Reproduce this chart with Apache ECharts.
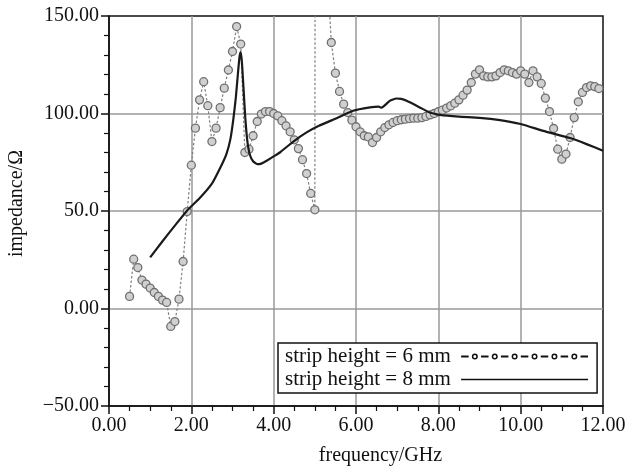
<!DOCTYPE html>
<html>
<head>
<meta charset="utf-8">
<script src="https://cdn.jsdelivr.net/npm/echarts@6/dist/echarts.min.js"></script>
<style>
html, body { margin: 0; padding: 0; background: #fff; }
#chart { width: 629px; height: 470px; }
</style>
</head>
<body>
<div id="chart"></div>
<script>
// ---- data ----
var seriesName6 = 'strip height = 6 mm';
var seriesName8 = 'strip height = 8 mm';

var freq6 = [0.5, 0.6, 0.7, 0.8, 0.9, 1.0, 1.1, 1.2, 1.3, 1.4,
  1.5, 1.6, 1.7, 1.8, 1.9, 2.0, 2.1, 2.2, 2.3, 2.4,
  2.5, 2.6, 2.7, 2.8, 2.9, 3.0, 3.1, 3.2, 3.3, 3.4,
  3.5, 3.6, 3.7, 3.8, 3.9, 4.0, 4.1, 4.2, 4.3, 4.4,
  4.5, 4.6, 4.7, 4.8, 4.9, 5.0, 5.1, 5.2, 5.3, 5.4,
  5.5, 5.6, 5.7, 5.8, 5.9, 6.0, 6.1, 6.2, 6.3, 6.4,
  6.5, 6.6, 6.7, 6.8, 6.9, 7.0, 7.1, 7.2, 7.3, 7.4,
  7.5, 7.6, 7.7, 7.8, 7.9, 8.0, 8.1, 8.2, 8.3, 8.4,
  8.5, 8.6, 8.7, 8.8, 8.9, 9.0, 9.1, 9.2, 9.3, 9.4,
  9.5, 9.6, 9.7, 9.8, 9.9, 10.0, 10.1, 10.2, 10.3, 10.4,
  10.5, 10.6, 10.7, 10.8, 10.9, 11.0, 11.1, 11.2, 11.3, 11.4,
  11.5, 11.6, 11.7, 11.8, 11.9];
var imp6 = [6.2, 25.3, 21, 14.6, 12.5, 10.5, 8.2, 6.2, 4.3, 3.1,
  -9.2, -6.7, 4.8, 24.1, 49.7, 73.5, 92.5, 107, 116.3, 104,
  85.6, 92.5, 103, 113, 122.3, 131.8, 144.6, 135.6, 80, 81.7,
  88.6, 95.9, 99.7, 101, 101, 100, 98.8, 96.3, 93.7, 90.6,
  86.5, 82, 76.3, 69.2, 59, 50.6, 2000, 1200, 175, 136.4,
  120.7, 111.3, 104.8, 100.5, 96.6, 93.2, 90.6, 88.6, 88, 85.1,
  87.7, 90.6, 92.8, 94.2, 95.4, 96.3, 96.8, 97.1, 97.4, 97.6,
  97.6, 97.9, 98.5, 99.3, 100, 100.9, 101.7, 102.8, 103.9, 105.3,
  107, 109.4, 112, 115.9, 120.2, 122.4, 119.3, 118.8, 118.8, 119.3,
  121, 122.4, 121.9, 121, 120.2, 121.9, 120.2, 115.9, 121.9, 118.8,
  115.4, 107.9, 101, 92.3, 81.7, 76.6, 79.2, 87.7, 97.9, 106,
  110.8, 113.3, 114.2, 113.8, 112.8];

var freq8 = [1.0, 1.3, 1.6, 1.9, 2.2, 2.5, 2.7, 2.85, 2.95, 3.02,
  3.08, 3.13, 3.17, 3.2, 3.23, 3.27, 3.31, 3.36, 3.42, 3.5,
  3.6, 3.7, 3.85, 4.0, 4.15, 4.47, 4.8, 5.1, 5.53, 5.93,
  6.34, 6.55, 6.62, 6.82, 6.98, 7.1, 7.23, 7.55, 7.79, 8.04,
  8.5, 9.0, 9.5, 10.0, 10.55, 11.2, 11.6, 12.0];
var imp8 = [26.2, 34.5, 42.5, 50.3, 56.5, 64, 72, 79, 87, 97,
  108, 120, 129, 131.5, 126, 112, 98, 86, 79, 75.5,
  74, 74.3, 76, 78, 80, 85.5, 90.3, 93.7, 97.6, 101.4,
  103.1, 103.5, 103, 106.5, 107.7, 107.5, 106.5, 103.1, 100.5, 99.3,
  98.4, 97.8, 96.6, 94.6, 91.1, 87.4, 84.3, 80.9];

var xTickValues = [0, 2, 4, 6, 8, 10, 12];
var xTickLabels = ['0.00', '2.00', '4.00', '6.00', '8.00', '10.00', '12.00'];
var yTickValues = [-50, 0, 50, 100, 150];
var yTickLabels = ['\u221250.00', '0.00', '50.0', '100.00', '150.00'];

// ---- helpers ----
function zip(xs, ys) {
  var out = [];
  for (var i = 0; i < xs.length; i++) out.push([xs[i], ys[i]]);
  return out;
}
function lookup(values, labels) {
  return function (v) {
    for (var i = 0; i < values.length; i++) {
      if (Math.abs(values[i] - v) < 1e-9) return labels[i];
    }
    return '';
  };
}
// legend icon: -o-o-o-o-o-o-
function dashedCircleIcon() {
  var R = 3, r = 1.5, d = 7.5, g = 3.2, th = 2.2;
  var period = d + 2 * g + 2 * R;
  var p = '';
  var cy = R;
  for (var k = 0; k < 7; k++) {
    var x0 = k * period;
    p += 'M' + x0 + ' ' + (cy - th / 2) + 'H' + (x0 + d) + 'V' + (cy + th / 2) + 'H' + x0 + 'Z';
  }
  for (var k2 = 0; k2 < 6; k2++) {
    var cx = d + g + R + k2 * period;
    p += 'M' + (cx - R) + ' ' + cy + 'A' + R + ' ' + R + ' 0 1 0 ' + (cx + R) + ' ' + cy +
         'A' + R + ' ' + R + ' 0 1 0 ' + (cx - R) + ' ' + cy + 'Z';
    p += 'M' + (cx - r) + ' ' + cy + 'A' + r + ' ' + r + ' 0 1 1 ' + (cx + r) + ' ' + cy +
         'A' + r + ' ' + r + ' 0 1 1 ' + (cx - r) + ' ' + cy + 'Z';
  }
  return 'path://' + p;
}

var serif = 'Liberation Serif, Times New Roman, serif';
var chart = echarts.init(document.getElementById('chart'), null, { renderer: 'canvas' });

var option = {
  animation: false,
  backgroundColor: '#fff',
  grid: {
    left: 109, right: 26, top: 16, bottom: 64,
    show: true, borderColor: '#111', borderWidth: 1.5, backgroundColor: 'transparent',
    containLabel: false, outerBoundsMode: 'none'
  },
  legend: {
    orient: 'vertical',
    left: 278, top: 343,
    align: 'right',
    padding: [3, 9, 3, 7],
    itemGap: 2,
    itemWidth: 127, itemHeight: 6,
    borderColor: '#111', borderWidth: 1.5, backgroundColor: '#fff',
    formatter: function (n) { return n + ' '; },
    textStyle: { fontFamily: serif, fontSize: 21, color: '#111', lineHeight: 21 },
    data: [
      { name: seriesName6, icon: dashedCircleIcon(), itemStyle: { color: '#111', borderWidth: 0, opacity: 1 } },
      { name: seriesName8, icon: 'path://M0 0H127V1.4H0Z', itemStyle: { color: '#111', borderWidth: 0, opacity: 1 } }
    ]
  },
  xAxis: {
    type: 'value', min: 0, max: 12, interval: 2,
    name: 'frequency/GHz', nameLocation: 'middle', nameGap: 40,
    nameTextStyle: { fontFamily: serif, fontSize: 20, color: '#111', padding: [0, 0, 0, 49] },
    axisLine: { show: true, onZero: false, lineStyle: { color: '#111', width: 1.5 } },
    axisTick: { show: true, inside: false, length: 8, lineStyle: { color: '#111', width: 1.5 } },
    minorTick: { show: true, splitNumber: 4, length: 5, lineStyle: { color: '#111', width: 1.2 } },
    splitLine: { show: true, showMinLine: false, showMaxLine: false, lineStyle: { color: '#999', width: 1.5 } },
    axisLabel: { fontFamily: serif, fontSize: 20, color: '#111', margin: 10,
      formatter: lookup(xTickValues, xTickLabels), showMinLabel: true, showMaxLabel: true }
  },
  yAxis: {
    type: 'value', min: -50, max: 150, interval: 50,
    name: 'impedance/\u03A9', nameLocation: 'middle', nameGap: 82,
    nameTextStyle: { fontFamily: serif, fontSize: 20, color: '#111', padding: [0, 0, 0, 15] },
    axisLine: { show: true, onZero: false, lineStyle: { color: '#111', width: 1.5 } },
    axisTick: { show: true, inside: false, length: 8, lineStyle: { color: '#111', width: 1.5 } },
    minorTick: { show: true, splitNumber: 5, length: 5, lineStyle: { color: '#111', width: 1.2 } },
    splitLine: { show: true, showMinLine: false, showMaxLine: false, lineStyle: { color: '#999', width: 1.5 } },
    axisLabel: { fontFamily: serif, fontSize: 20, color: '#111', margin: 10,
      formatter: lookup(yTickValues, yTickLabels), showMinLabel: true, showMaxLabel: true }
  },
  series: [
    {
      name: seriesName6,
      type: 'line',
      data: zip(freq6, imp6),
      clip: true,
      symbol: 'circle',
      symbolSize: 8,
      showAllSymbol: true,
      color: '#333',
      itemStyle: { color: '#d0d0d0', borderColor: '#707070', borderWidth: 1.3 },
      lineStyle: { color: '#808080', width: 1.2, type: [2.5, 2] },
      emphasis: { disabled: true },
      z: 2
    },
    {
      name: seriesName8,
      type: 'line',
      data: zip(freq8, imp8),
      clip: true,
      symbol: 'none',
      smooth: 0.15,
      color: '#1a1a1a',
      lineStyle: { color: '#1a1a1a', width: 2.2 },
      emphasis: { disabled: true },
      z: 3
    }
  ]
};
chart.setOption(option);
</script>
</body>
</html>
